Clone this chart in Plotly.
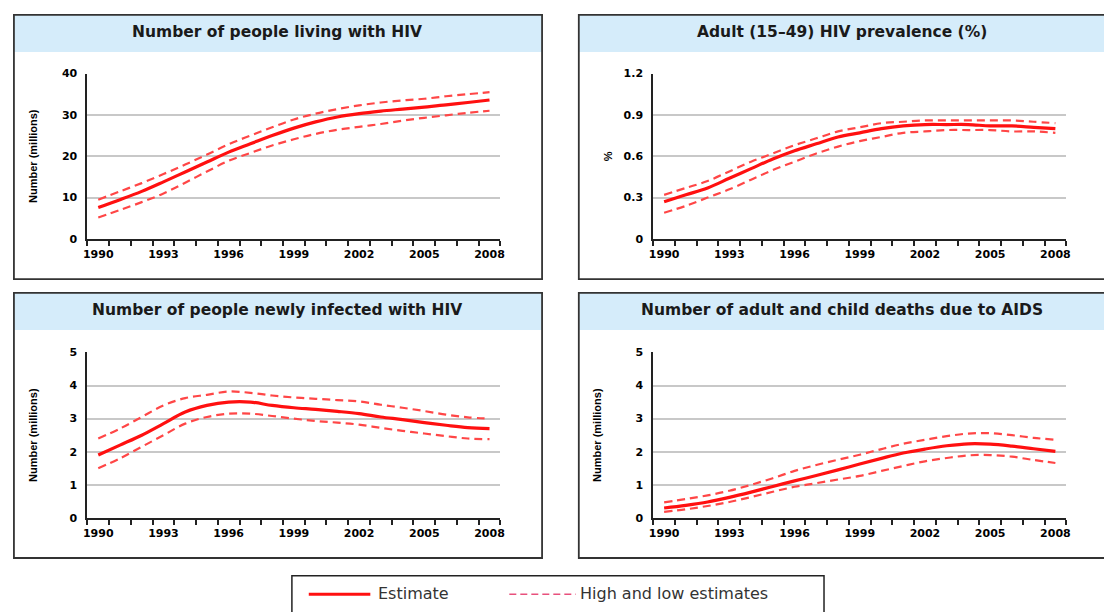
import plotly.graph_objects as go

years = list(range(1990, 2009))

living_est = [7.6, 9.5, 11.5, 13.8, 16.2, 18.6, 21.0, 23.0, 25.0, 26.8, 28.3, 29.5, 30.3, 30.9, 31.4, 31.9, 32.4, 33.0, 33.6]
living_high = [9.5, 11.5, 13.5, 15.7, 18.0, 20.4, 22.9, 25.0, 27.0, 28.9, 30.3, 31.4, 32.3, 33.0, 33.5, 33.9, 34.5, 35.0, 35.5]
living_low = [5.2, 7.0, 8.9, 11.0, 13.6, 16.3, 18.9, 20.8, 22.6, 24.1, 25.4, 26.4, 27.1, 27.8, 28.6, 29.3, 29.9, 30.5, 31.0]

prev_est = [0.27, 0.32, 0.37, 0.44, 0.51, 0.58, 0.64, 0.69, 0.74, 0.77, 0.80, 0.82, 0.83, 0.83, 0.83, 0.82, 0.82, 0.81, 0.80]
prev_high = [0.32, 0.37, 0.42, 0.49, 0.56, 0.62, 0.68, 0.73, 0.78, 0.81, 0.84, 0.85, 0.86, 0.86, 0.86, 0.86, 0.86, 0.85, 0.84]
prev_low = [0.19, 0.24, 0.30, 0.36, 0.43, 0.50, 0.56, 0.62, 0.67, 0.71, 0.74, 0.77, 0.78, 0.79, 0.79, 0.79, 0.78, 0.78, 0.77]

new_est = [1.9, 2.2, 2.5, 2.85, 3.2, 3.4, 3.5, 3.5, 3.4, 3.33, 3.28, 3.22, 3.15, 3.05, 2.97, 2.88, 2.8, 2.73, 2.7]
new_high = [2.4, 2.7, 3.05, 3.4, 3.62, 3.72, 3.82, 3.78, 3.7, 3.64, 3.6, 3.56, 3.52, 3.42, 3.33, 3.23, 3.12, 3.04, 3.0]
new_low = [1.5, 1.8, 2.15, 2.5, 2.85, 3.05, 3.15, 3.15, 3.08, 3.0, 2.93, 2.88, 2.82, 2.72, 2.63, 2.55, 2.47, 2.4, 2.38]

death_est = [0.3, 0.38, 0.48, 0.62, 0.78, 0.95, 1.12, 1.28, 1.45, 1.63, 1.8, 1.96, 2.08, 2.18, 2.24, 2.23, 2.17, 2.09, 2.01]
death_high = [0.47, 0.57, 0.68, 0.82, 1.0, 1.2, 1.42, 1.6, 1.76, 1.91, 2.08, 2.24, 2.36, 2.47, 2.55, 2.56, 2.5, 2.42, 2.36]
death_low = [0.18, 0.26, 0.36, 0.48, 0.63, 0.79, 0.94, 1.05, 1.16, 1.27, 1.42, 1.57, 1.71, 1.81, 1.89, 1.9, 1.85, 1.75, 1.66]

titles = ["Number of people living with HIV", "Adult (15\u201349) HIV prevalence (%)",
          "Number of people newly infected with HIV", "Number of adult and child deaths due to AIDS"]
y_titles = ["Number (millions)", "%", "Number (millions)", "Number (millions)"]
x_tick_labels = [1990, 1993, 1996, 1999, 2002, 2005, 2008]
y_ticks = [[0, 10, 20, 30, 40], [0, 0.3, 0.6, 0.9, 1.2], [0, 1, 2, 3, 4, 5], [0, 1, 2, 3, 4, 5]]
y_tick_text = [["0", "10", "20", "30", "40"], ["0", "0.3", "0.6", "0.9", "1.2"],
               ["0", "1", "2", "3", "4", "5"], ["0", "1", "2", "3", "4", "5"]]
legend_labels = ["Estimate", "High and low estimates"]
series = [(living_est, living_high, living_low), (prev_est, prev_high, prev_low),
          (new_est, new_high, new_low), (death_est, death_high, death_low)]

W, H = 1104, 612
def px(x):
    return x / W
def py(y):
    return 1 - y / H

# plot areas in pixels: (left, right, top, bottom)
areas = [(84, 500, 69, 238), (654, 1070, 69, 238), (84, 500, 354, 523), (654, 1070, 354, 523)]
boxes = [(10, 542, 9, 279), (579, 1112, 9, 279), (10, 542, 293, 564), (579, 1112, 293, 564)]
standoffs = [22, 9, 30, 32]

RED = "#ff1010"
DASH_RED = "#ff4646"
TICK_FONT = dict(family="DejaVu Sans", size=11, color="black", weight="bold")

fig = go.Figure()
layout = {}
shapes = []
annotations = []
for i in range(4):
    n = "" if i == 0 else str(i + 1)
    xa, ya = "x" + n, "y" + n
    est, hi, lo = series[i]
    for vals in (hi, lo):
        fig.add_trace(go.Scatter(x=years, y=vals, mode="lines", xaxis=xa, yaxis=ya,
                                 line=dict(color=DASH_RED, width=2.2, dash="8px,5px", shape="spline"),
                                 name=legend_labels[1], showlegend=False, hoverinfo="skip"))
    fig.add_trace(go.Scatter(x=years, y=est, mode="lines", xaxis=xa, yaxis=ya,
                             line=dict(color=RED, width=3.2, shape="spline"),
                             name=legend_labels[0], showlegend=False, hoverinfo="skip"))
    l, r, t, b = areas[i]
    layout["xaxis" + n] = dict(
        domain=[px(l), px(r)], anchor=ya, range=[1989.5, 2008.5],
        tickmode="array", tickvals=x_tick_labels, ticktext=[str(v) for v in x_tick_labels],
        ticks="outside", ticklen=0, tickcolor="black", ticklabelstandoff=4,
        minor=dict(tickmode="linear", tick0=1989.5, dtick=1, ticks="outside", ticklen=5,
                   tickcolor="#222222", tickwidth=1.5, showgrid=False),
        showline=True, linecolor="#222222", linewidth=2, showgrid=False, zeroline=False,
        tickfont=TICK_FONT, fixedrange=True)
    layout["yaxis" + n] = dict(
        domain=[py(b), py(t)], anchor=xa, range=[0, y_ticks[i][-1]],
        tickmode="array", tickvals=y_ticks[i], ticktext=y_tick_text[i],
        ticks="", showline=True, linecolor="#222222", linewidth=2,
        showgrid=True, gridcolor="#c8c8c8", gridwidth=2, zeroline=False,
        ticklabelstandoff=6, tickfont=TICK_FONT,
        title=dict(text=y_titles[i], standoff=standoffs[i],
                   font=dict(family="Liberation Sans", size=11, color="black", weight="bold")),
        fixedrange=True)
    bx0, bx1, by0, by1 = boxes[i]
    band_bottom = by0 + 38
    shapes.append(dict(type="rect", xref="paper", yref="paper", x0=px(bx0), x1=px(bx1),
                       y0=py(by0), y1=py(band_bottom), fillcolor="#d5ecfa", line=dict(width=0),
                       layer="below"))
    shapes.append(dict(type="rect", xref="paper", yref="paper", x0=px(bx0), x1=px(bx1),
                       y0=py(by0), y1=py(by1), line=dict(color="#333333", width=1.8),
                       fillcolor="rgba(0,0,0,0)"))
    annotations.append(dict(text=titles[i], xref="paper", yref="paper",
                            x=px((bx0 + bx1) / 2 - 1), y=py((by0 + band_bottom) / 2 - 1),
                            xanchor="center", yanchor="middle", showarrow=False,
                            font=dict(family="DejaVu Sans", size=15.5, color="#1a1a1a", weight="bold")))

# legend box drawn as a framed strip at the bottom
LEG_Y = 601
shapes.append(dict(type="rect", xref="paper", yref="paper", x0=px(290), x1=px(826),
                   y0=py(620), y1=py(582), line=dict(color="#222222", width=1.5),
                   fillcolor="white"))
shapes.append(dict(type="line", xref="paper", yref="paper", x0=px(307), x1=px(369),
                   y0=py(LEG_Y), y1=py(LEG_Y), line=dict(color=RED, width=3)))
shapes.append(dict(type="line", xref="paper", yref="paper", x0=px(509), x1=px(576),
                   y0=py(LEG_Y), y1=py(LEG_Y), line=dict(color="#e8507c", width=1.5, dash="7px,4px")))
annotations.append(dict(text=legend_labels[0], xref="paper", yref="paper", x=px(375), y=py(LEG_Y - 1),
                        xanchor="left", yanchor="middle", showarrow=False,
                        font=dict(family="DejaVu Sans", size=16, color="#333333")))
annotations.append(dict(text=legend_labels[1], xref="paper", yref="paper", x=px(578), y=py(LEG_Y - 1),
                        xanchor="left", yanchor="middle", showarrow=False,
                        font=dict(family="DejaVu Sans", size=16, color="#333333")))

fig.update_layout(
    width=W, height=H, margin=dict(l=0, r=0, t=0, b=0),
    paper_bgcolor="white", plot_bgcolor="white", showlegend=False,
    shapes=shapes, annotations=annotations,
    **layout)

fig.write_html("out.html", config={"displayModeBar": False},
               post_script="document.body.style.margin='0';")
